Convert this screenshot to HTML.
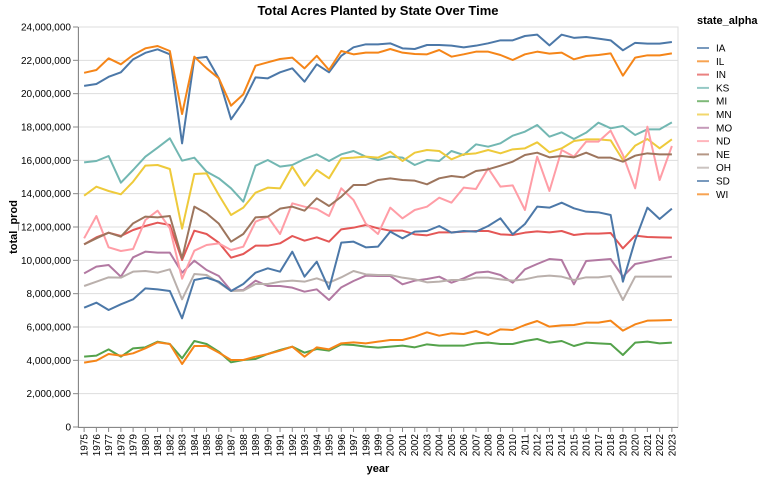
<!DOCTYPE html>
<html><head><meta charset="utf-8">
<style>
body{margin:0;background:#fff;}
svg{display:block;font-family:"Liberation Sans",Arial,sans-serif;}
</style></head>
<body>
<svg id="chart" width="762" height="477" viewBox="0 0 762 477" xmlns="http://www.w3.org/2000/svg">
<text x="378" y="15" text-anchor="middle" font-size="13" font-weight="bold" fill="#000">Total Acres Planted by State Over Time</text>
<text transform="translate(17,227) rotate(-90)" text-anchor="middle" font-size="11" font-weight="bold" fill="#000">total_prod</text>
<text x="378" y="472" text-anchor="middle" font-size="11" font-weight="bold" fill="#000">year</text>
<g id="grid"></g><g id="axes"></g><g id="lines"></g><g id="legend"></g>
</svg>
<script>
const years=[];for(let y=1975;y<=2023;y++)years.push(y);
const states=["IA","IL","IN","KS","MI","MN","MO","ND","NE","OH","SD","WI"];
const colors=["#4c78a8","#f58518","#e45756","#72b7b2","#54a24b","#eeca3b","#b279a2","#ff9da6","#9d755d","#bab0ac","#4c78a8","#f58518"];
const yTicks=[0,2,4,6,8,10,12,14,16,18,20,22,24];
const IA=[20.47,20.58,21.01,21.28,22.06,22.45,22.66,22.36,17.02,22.12,22.21,20.92,18.46,19.51,20.98,20.92,21.28,21.52,20.72,21.76,21.28,22.27,22.78,22.96,22.96,23.02,22.72,22.68,22.92,22.92,22.88,22.78,22.88,23.02,23.2,23.2,23.46,23.54,22.9,23.54,23.35,23.4,23.3,23.2,22.6,23.05,23.0,23.0,23.1];
const IL=[21.25,21.42,22.12,21.76,22.32,22.72,22.86,22.56,18.78,22.22,21.52,20.92,19.28,19.96,21.68,21.88,22.08,22.16,21.52,22.27,21.42,22.56,22.36,22.46,22.46,22.68,22.46,22.38,22.36,22.62,22.22,22.36,22.52,22.52,22.32,22.02,22.36,22.52,22.4,22.46,22.06,22.26,22.32,22.42,21.08,22.16,22.3,22.3,22.42];
const IN=[10.96,11.38,11.66,11.46,11.82,12.06,12.26,12.12,10.02,11.78,11.58,11.06,10.16,10.38,10.88,10.88,11.02,11.46,11.18,11.38,11.12,11.86,11.96,12.12,11.92,11.78,11.78,11.56,11.5,11.68,11.68,11.72,11.76,11.76,11.56,11.52,11.66,11.74,11.68,11.76,11.52,11.6,11.6,11.64,10.72,11.48,11.4,11.38,11.36];
const KS=[15.88,15.96,16.26,14.66,15.42,16.22,16.76,17.32,15.98,16.16,15.32,14.92,14.32,13.52,15.68,16.02,15.62,15.72,16.08,16.36,15.96,16.36,16.56,16.22,16.02,16.22,16.16,15.72,16.02,15.96,16.56,16.32,16.96,16.82,17.02,17.48,17.72,18.12,17.42,17.68,17.28,17.66,18.26,17.92,18.06,17.52,17.86,17.86,18.28];
const MI=[4.22,4.28,4.66,4.22,4.72,4.78,5.12,4.98,4.12,5.16,4.98,4.52,3.88,4.02,4.08,4.38,4.62,4.82,4.46,4.68,4.58,4.96,4.92,4.82,4.76,4.82,4.88,4.78,4.96,4.88,4.88,4.88,5.02,5.06,4.98,4.98,5.16,5.28,5.06,5.16,4.86,5.06,5.02,4.98,4.32,5.06,5.12,5.02,5.06];
const MN=[13.88,14.42,14.16,13.96,14.72,15.68,15.72,15.48,11.9,15.18,15.22,13.92,12.72,13.16,14.06,14.36,14.32,15.62,14.48,15.42,14.92,16.12,16.16,16.22,16.16,16.52,15.96,16.46,16.62,16.56,16.06,16.36,16.42,16.62,16.42,16.66,16.72,17.08,16.48,16.72,17.16,17.26,17.26,17.2,16.02,16.88,17.28,16.72,17.26];
const MO=[9.22,9.62,9.72,9.02,10.18,10.52,10.46,10.46,9.26,9.98,9.42,9.06,8.18,8.22,8.78,8.46,8.46,8.36,8.12,8.26,7.62,8.38,8.76,9.08,9.06,9.06,8.56,8.78,8.88,9.02,8.66,8.92,9.26,9.32,9.12,8.66,9.46,9.78,10.08,10.02,8.56,9.96,10.02,10.08,9.02,9.78,9.92,10.08,10.22];
const ND=[11.32,12.66,10.78,10.56,10.68,12.42,12.98,11.92,8.9,10.58,10.92,11.02,10.62,10.82,12.32,12.62,11.58,13.42,13.22,13.08,12.66,14.32,13.62,12.2,11.58,13.16,12.52,13.02,13.22,13.76,13.46,14.36,14.28,15.52,14.42,14.5,13.02,16.22,14.16,16.62,16.22,17.12,17.12,17.78,16.32,14.32,18.02,14.82,16.86];
const NE=[10.96,11.32,11.66,11.42,12.22,12.62,12.58,12.66,10.12,13.22,12.82,12.2,11.12,11.58,12.58,12.62,13.1,13.22,12.98,13.72,13.26,13.82,14.52,14.52,14.82,14.92,14.82,14.78,14.56,14.92,15.06,14.98,15.36,15.46,15.68,15.92,16.32,16.46,16.18,16.26,16.18,16.46,16.16,16.16,15.92,16.28,16.42,16.36,16.36];
const OH=[8.46,8.72,8.98,8.96,9.32,9.36,9.26,9.46,7.66,9.18,9.12,8.66,8.16,8.18,8.58,8.58,8.72,8.78,8.72,8.92,8.66,8.98,9.36,9.16,9.12,9.12,8.96,8.86,8.68,8.72,8.82,8.82,8.96,8.96,8.86,8.78,8.86,9.02,9.08,9.02,8.82,8.98,8.98,9.06,7.62,9.02,9.02,9.02,9.02];
const SD=[7.16,7.46,7.02,7.36,7.66,8.32,8.26,8.16,6.52,8.82,8.96,8.72,8.16,8.58,9.26,9.52,9.32,10.52,9.02,9.92,8.28,11.06,11.12,10.78,10.82,11.72,11.32,11.72,11.76,12.06,11.66,11.76,11.72,12.06,12.52,11.56,12.18,13.22,13.16,13.46,13.12,12.92,12.88,12.72,8.72,11.2,13.16,12.48,13.1];
const WI=[3.86,3.98,4.38,4.28,4.42,4.72,5.08,4.98,3.78,4.86,4.86,4.46,4.02,4.02,4.22,4.38,4.58,4.82,4.22,4.78,4.66,5.02,5.08,5.02,5.12,5.22,5.22,5.42,5.68,5.48,5.62,5.58,5.76,5.52,5.86,5.82,6.12,6.36,6.02,6.1,6.12,6.26,6.26,6.38,5.78,6.16,6.38,6.4,6.42];
const series=[IA,IL,IN,KS,MI,MN,MO,ND,NE,OH,SD,WI];

const NS="http://www.w3.org/2000/svg";
const L=78,R=678,T=27,B=427;
const step=(R-L)/years.length;
function xs(i){return L+step*(i+0.5);}
function ys(v){return B-(v/24)*(B-T);}
function mk(tag,attrs,parent){const e=document.createElementNS(NS,tag);for(const k in attrs)e.setAttribute(k,attrs[k]);parent.appendChild(e);return e;}
const grid=document.getElementById('grid'),axes=document.getElementById('axes'),lines=document.getElementById('lines'),legend=document.getElementById('legend');
yTicks.forEach(t=>{
  const y=ys(t);
  const g=mk('line',{x1:L,x2:R,y1:y,y2:y,stroke:'#ddd','stroke-width':1},grid);
  
  
  const tk=mk('line',{x1:L-5,x2:L,y1:y,y2:y,stroke:'#888'},axes);
  
  
  const tx=mk('text',{x:L-7,y:y+3.5,'text-anchor':'end','font-size':10,fill:'#000'},axes);
  tx.textContent=(t*1000000).toLocaleString('en-US');
  
  
});
const frame=mk('rect',{x:L,y:T,width:R-L,height:B-T,fill:'none',stroke:'#ddd'},grid);


const xd=mk('line',{x1:L,x2:R,y1:B+0.5,y2:B+0.5,stroke:'#888'},axes);


const yd=mk('line',{x1:L+0.5,x2:L+0.5,y1:T,y2:B,stroke:'#888'},axes);


years.forEach((yr,i)=>{
  const x=xs(i);
  const tk=mk('line',{x1:x,x2:x,y1:B,y2:B+5,stroke:'#888'},axes);
  
  
  const tx=mk('text',{transform:`translate(${x+3.5},${B+7}) rotate(-90)`,'text-anchor':'end','font-size':10,fill:'#000'},axes);
  tx.textContent=yr;
  
  
});
series.forEach((s,k)=>{
  const d=s.map((v,i)=>(i?'L':'M')+xs(i).toFixed(2)+','+ys(v).toFixed(2)).join('');
  const p=mk('path',{d:d,fill:'none',stroke:colors[k],'stroke-width':2,'stroke-linejoin':'round'},lines);
  
  
});
const lt=mk('text',{x:697,y:24,'font-size':11,'font-weight':'bold',fill:'#000'},legend);
lt.textContent='state_alpha';


states.forEach((st,k)=>{
  const y=48+k*13.3;
  const g=mk('g',{},legend);
  
  
  mk('line',{x1:697,x2:709,y1:y,y2:y,stroke:colors[k],'stroke-width':2,opacity:0.75},g);
  const t=mk('text',{x:716,y:y+3.5,'font-size':10,fill:'#000'},g);
  t.textContent=st;
});
</script>
</body></html>
